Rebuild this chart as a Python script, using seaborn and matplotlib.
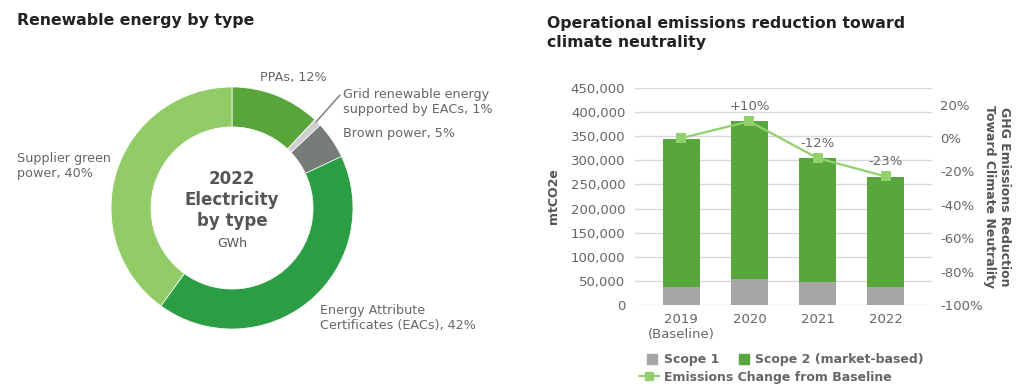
import numpy as np
import pandas as pd
import matplotlib.pyplot as plt
import seaborn as sns
from matplotlib.lines import Line2D

# donut data
energy_types = ["PPAs", "Grid renewable energy\nsupported by EACs", "Brown power",
                "Energy Attribute\nCertificates (EACs)", "Supplier green\npower"]
energy_share = [12, 1, 5, 42, 40]
energy_colors = ["#58a53c", "#cfcfcf", "#777c79", "#2b9e45", "#93cc67"]

# emissions data
years = ["2019\n(Baseline)", "2020", "2021", "2022"]
scope1 = [38000, 53000, 48000, 38000]
scope2 = [306000, 329000, 256000, 228000]
change = [0.0, 0.10, -0.12, -0.23]
change_labels = ["", "+10%", "-12%", "-23%"]

sns.set_theme(style="white")
plt.rcParams["font.family"] = ["DejaVu Sans"]

TXT = "#666666"
W, H = 1022, 391
fig = plt.figure(figsize=(W / 100, H / 100), dpi=100)

def px(x0, y0, x1, y1):
    return [x0 / W, 1 - y1 / H, (x1 - x0) / W, (y1 - y0) / H]

# ---- donut ----
cx, cy, r = 232, 208, 121
s = r * 1.25
axp = fig.add_axes(px(cx - s, cy - s, cx + s, cy + s))
axp.pie(energy_share, colors=energy_colors, startangle=90, counterclock=False,
        wedgeprops=dict(width=0.33, edgecolor="white", linewidth=0.5))
axp.set_aspect("equal")

fig.text(17 / W, 1 - 21 / H, "Renewable energy by type", fontsize=11.3, fontweight="bold",
         color="#222222", va="center")

def ftxt(x, y, s, **kw):
    kw.setdefault("fontsize", 9.2)
    kw.setdefault("color", TXT)
    fig.text(x / W, 1 - y / H, s, va="center", linespacing=1.15, **kw)

ftxt(260, 77, "PPAs, 12%")
ftxt(343, 102, "Grid renewable energy\nsupported by EACs, 1%")
ftxt(343, 133, "Brown power, 5%")
ftxt(17, 166, "Supplier green\npower, 40%")
ftxt(320, 318, "Energy Attribute\nCertificates (EACs), 42%")
fig.add_artist(Line2D([316 / W, 340 / W], [1 - 122 / H, 1 - 95 / H], color="#777777", lw=1))

ftxt(cx, 179, "2022", ha="center", fontsize=12, fontweight="bold", color="#555555")
ftxt(cx, 200, "Electricity", ha="center", fontsize=12, fontweight="bold", color="#555555")
ftxt(cx, 221, "by type", ha="center", fontsize=12, fontweight="bold", color="#555555")
ftxt(cx, 243, "GWh", ha="center", fontsize=9, color="#555555")

# ---- stacked bars + line ----
fig.text(547 / W, 1 - 33 / H, "Operational emissions reduction toward\nclimate neutrality",
         fontsize=11.3, fontweight="bold", color="#222222", va="center", linespacing=1.4)

ax = fig.add_axes(px(635, 88, 932, 305))
df = pd.DataFrame({"year": years, "scope1": scope1,
                   "total": np.array(scope1) + np.array(scope2)})
sns.barplot(data=df, x="year", y="total", color="#58a73e", width=0.55,
            saturation=1, linewidth=0, ax=ax)
sns.barplot(data=df, x="year", y="scope1", color="#a6a6a6", width=0.55,
            saturation=1, linewidth=0, ax=ax)
ax.set_ylim(0, 450000)
ax.set_xlim(-0.68, 3.68)
ax.set_yticks(np.arange(0, 450001, 50000))
ax.set_yticklabels([f"{v:,}" for v in range(0, 450001, 50000)])
ax.yaxis.grid(True, color="#d9d9d9", lw=1)
ax.set_axisbelow(True)
for sp in ax.spines.values():
    sp.set_visible(False)
ax.tick_params(axis="both", length=0, labelsize=9.5, labelcolor=TXT)
ax.tick_params(axis="y", pad=7)
ax.tick_params(axis="x", pad=6)
ax.set_xlabel("")
ax.set_ylabel("mtCO2e", fontsize=9, fontweight="bold", color="#555555", labelpad=8)

ax2 = ax.twinx()
sns.lineplot(x=np.arange(len(years)), y=change, color="#92d06b", lw=1.6, marker="s",
             markersize=7, markeredgewidth=0, ax=ax2)
ax2.set_ylim(-1.0, 0.3)
ax2.set_yticks(np.arange(-1.0, 0.21, 0.2))
ax2.set_yticklabels([f"{int(round(v * 100))}%" for v in np.arange(-1.0, 0.21, 0.2)])
for sp in ax2.spines.values():
    sp.set_visible(False)
ax2.tick_params(axis="y", length=0, labelsize=9.5, labelcolor=TXT, pad=6)
ax2.set_ylabel("GHG Emissions Reduction\nToward Climate Neutrality", rotation=270,
               fontsize=9, fontweight="bold", color="#555555", labelpad=20)
for i, (v, lab) in enumerate(zip(change, change_labels)):
    if lab:
        ax2.annotate(lab, (i, v), xytext=(0, 6), textcoords="offset points",
                     ha="center", va="bottom", fontsize=9.5, color=TXT)

h1 = [Line2D([], [], ls="", marker="s", color="#a6a6a6", markersize=7),
      Line2D([], [], ls="", marker="s", color="#58a73e", markersize=7)]
fig.legend(h1, ["Scope 1", "Scope 2 (market-based)"], ncol=2, frameon=False,
           loc="center left", bbox_to_anchor=(636 / W, 1 - 360 / H),
           handlelength=0.8, handletextpad=0.5, columnspacing=1.6,
           prop={"size": 9, "weight": "bold"}, labelcolor="#666666")
h2 = [Line2D([], [], color="#92d06b", lw=1.6, marker="s", markersize=6)]
fig.legend(h2, ["Emissions Change from Baseline"], frameon=False,
           loc="center left", bbox_to_anchor=(628 / W, 1 - 377 / H),
           handlelength=1.6, handletextpad=0.4,
           prop={"size": 9, "weight": "bold"}, labelcolor="#666666")

fig.savefig("out.png", dpi=100)
